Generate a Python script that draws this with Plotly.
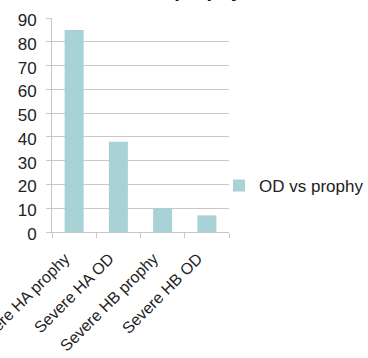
import plotly.graph_objects as go

# Chart data
categories = ["Severe HA prophy", "Severe HA OD", "Severe HB prophy", "Severe HB OD"]
values = [85, 38, 10, 7]
series_name = "OD vs prophy"
chart_title = "OD vs prophy"
y_ticks = [0, 10, 20, 30, 40, 50, 60, 70, 80, 90]

W, H = 368, 358
L, R, T, B = 52, 139, 18, 126
plot_w = W - L - R
plot_h = H - T - B

fig = go.Figure()
fig.add_trace(go.Bar(
    x=categories,
    y=values,
    name=series_name,
    marker=dict(color="#a9d2d7", line=dict(width=0)),
    showlegend=True,
))

fig.update_layout(
    width=W, height=H,
    margin=dict(l=L, r=R, t=T, b=B, pad=0, autoexpand=False),
    paper_bgcolor="white",
    plot_bgcolor="white",
    bargap=0.57,
    font=dict(family="Liberation Sans, Arial, sans-serif", color="#222222"),
    showlegend=True,
    legend=dict(
        x=(219 - L) / plot_w, y=0.215, xanchor="left", yanchor="middle",
        font=dict(size=17, color="#222222"),
        bgcolor="rgba(0,0,0,0)",
        itemwidth=30,
        tracegroupgap=0,
    ),
    annotations=[dict(
        text="<b>" + chart_title + "</b>",
        xref="paper", yref="paper",
        x=(177 - L) / plot_w, y=1 + 15 / plot_h,
        xanchor="center", yanchor="bottom",
        showarrow=False,
        font=dict(size=20, color="#111111"),
    )],
)

fig.update_xaxes(
    type="category",
    showgrid=False,
    showline=True, linecolor="#c8c8c8", linewidth=1,
    ticks="outside", tickson="boundaries", ticklen=5, tickcolor="#c8c8c8",
    tickangle=-45,
    tickfont=dict(size=16, color="#222222"),
    ticklabelstandoff=10,
    ticklabelshift=-9,
)
fig.update_yaxes(
    range=[0, 90],
    tickvals=y_ticks,
    showgrid=True, gridcolor="#c8c8c8", gridwidth=1,
    showline=True, linecolor="#c8c8c8", linewidth=1,
    ticks="outside", ticklen=5, tickcolor="#c8c8c8",
    tickfont=dict(size=17, color="#222222"),
    ticklabelstandoff=6,
    ticklabelshift=2,
    zeroline=False,
)

fig.write_html("out.html")
